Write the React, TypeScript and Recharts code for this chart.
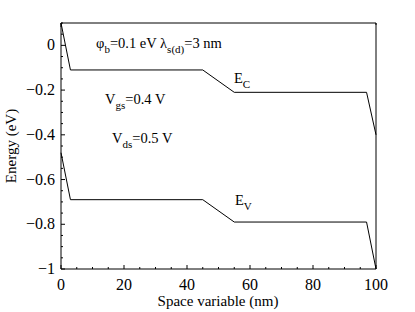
import { Customized, Line, LineChart, XAxis, YAxis } from 'recharts'

const position = [0, 3, 45, 55, 97, 100]
const conduction = [0.1, -0.11, -0.11, -0.21, -0.21, -0.4]
const valence = [-0.48, -0.69, -0.69, -0.79, -0.79, -1.0]

const xTicks = [0, 5, 10, 15, 20, 25, 30, 35, 40, 45, 50, 55, 60, 65, 70, 75, 80, 85, 90, 95, 100]
const yTicks = [
  -1, -0.95, -0.9, -0.85, -0.8, -0.75, -0.7, -0.65, -0.6, -0.55, -0.5, -0.45,
  -0.4, -0.35, -0.3, -0.25, -0.2, -0.15, -0.1, -0.05, 0, 0.05, 0.1,
]

const data = position.map((x, i) => ({ x, ec: conduction[i], ev: valence[i] }))

const font = '"Liberation Serif", "Times New Roman", serif'
const MAJOR = 4
const MINOR = 2

const isMajorX = (v: number) => v % 20 === 0
const isMajorY = (v: number) => Math.abs(Math.round(v * 5) - v * 5) < 1e-9 && v <= 0
const fmtY = (v: number) => (Math.abs(v) < 1e-9 ? '0' : v === -1 ? '\u22121' : '\u2212' + Math.abs(v).toFixed(1))

function BottomTick(props: any) {
  const { x, y, payload } = props
  const major = isMajorX(payload.value)
  return (
    <g>
      <line x1={x} x2={x} y1={y} y2={y - (major ? MAJOR : MINOR)} stroke="#000" />
      {major && (
        <text x={x} y={y + 21} textAnchor="middle" fontSize={16} fontFamily={font} fill="#000">
          {payload.value}
        </text>
      )}
    </g>
  )
}

function TopTick(props: any) {
  const { x, y, payload } = props
  const major = isMajorX(payload.value)
  return <line x1={x} x2={x} y1={y} y2={y + (major ? MAJOR : MINOR)} stroke="#000" />
}

function LeftTick(props: any) {
  const { x, y, payload } = props
  const major = isMajorY(payload.value)
  return (
    <g>
      <line x1={x} x2={x + (major ? MAJOR : MINOR)} y1={y} y2={y} stroke="#000" />
      {major && (
        <text x={x - 6} y={y + 5} textAnchor="end" fontSize={16} fontFamily={font} fill="#000">
          {fmtY(payload.value)}
        </text>
      )}
    </g>
  )
}

function RightTick(props: any) {
  const { x, y, payload } = props
  const major = isMajorY(payload.value)
  return <line x1={x} x2={x - (major ? MAJOR : MINOR)} y1={y} y2={y} stroke="#000" />
}

function Annotations() {
  const t = { fontFamily: font, fill: '#000', fontSize: 14.5 }
  return (
    <g>
      <text x={96} y={48} {...t}>
        <tspan>φ</tspan>
        <tspan dy={5} fontSize={11}>b</tspan>
        <tspan dy={-5}>=0.1 eV λ</tspan>
        <tspan dy={5} fontSize={11}>s(d)</tspan>
        <tspan dy={-5}>=3 nm</tspan>
      </text>
      <text x={234} y={83} {...t}>
        <tspan>E</tspan>
        <tspan dy={5} fontSize={11}>C</tspan>
      </text>
      <text x={105} y={104} {...t}>
        <tspan>V</tspan>
        <tspan dy={5} fontSize={11}>gs</tspan>
        <tspan dy={-5}>=0.4 V</tspan>
      </text>
      <text x={112} y={143} {...t}>
        <tspan>V</tspan>
        <tspan dy={5} fontSize={11}>ds</tspan>
        <tspan dy={-5}>=0.5 V</tspan>
      </text>
      <text x={235} y={205} {...t}>
        <tspan>E</tspan>
        <tspan dy={5} fontSize={11}>V</tspan>
      </text>
      <text x={218} y={306} textAnchor="middle" {...t} fontSize={15}>
        Space variable (nm)
      </text>
      <text x={16} y={146} textAnchor="middle" transform="rotate(-90 16 146)" {...t} fontSize={15}>
        Energy (eV)
      </text>
    </g>
  )
}

export default function App() {
  return (
    <div style={{ position: 'absolute', left: 0, top: 0, width: 415, height: 312, background: '#fff' }}>
      <LineChart width={415} height={312} data={data} margin={{ top: 22, right: 38, bottom: 0, left: 16 }}>
        <XAxis
          xAxisId="b"
          dataKey="x"
          type="number"
          domain={[0, 100]}
          ticks={xTicks}
          interval={0}
          height={43}
          tickSize={0}
          tickMargin={0}
          tickLine={false}
          axisLine={{ stroke: '#000' }}
          tick={BottomTick}
        />
        <XAxis
          xAxisId="t"
          orientation="top"
          type="number"
          domain={[0, 100]}
          ticks={xTicks}
          interval={0}
          height={1}
          tickSize={0}
          tickMargin={0}
          tickLine={false}
          axisLine={{ stroke: '#000' }}
          tick={TopTick}
        />
        <YAxis
          yAxisId="l"
          type="number"
          domain={[-1, 0.1]}
          ticks={yTicks}
          interval={0}
          width={45}
          tickSize={0}
          tickMargin={0}
          tickLine={false}
          axisLine={{ stroke: '#000' }}
          tick={LeftTick}
        />
        <YAxis
          yAxisId="r"
          orientation="right"
          type="number"
          domain={[-1, 0.1]}
          ticks={yTicks}
          interval={0}
          width={1}
          tickSize={0}
          tickMargin={0}
          tickLine={false}
          axisLine={{ stroke: '#000' }}
          tick={RightTick}
        />
        <Line xAxisId="b" yAxisId="l" type="linear" dataKey="ec" stroke="#000" strokeWidth={1} dot={false} isAnimationActive={false} />
        <Line xAxisId="b" yAxisId="l" type="linear" dataKey="ev" stroke="#000" strokeWidth={1} dot={false} isAnimationActive={false} />
        <Customized component={Annotations} />
      </LineChart>
    </div>
  )
}
